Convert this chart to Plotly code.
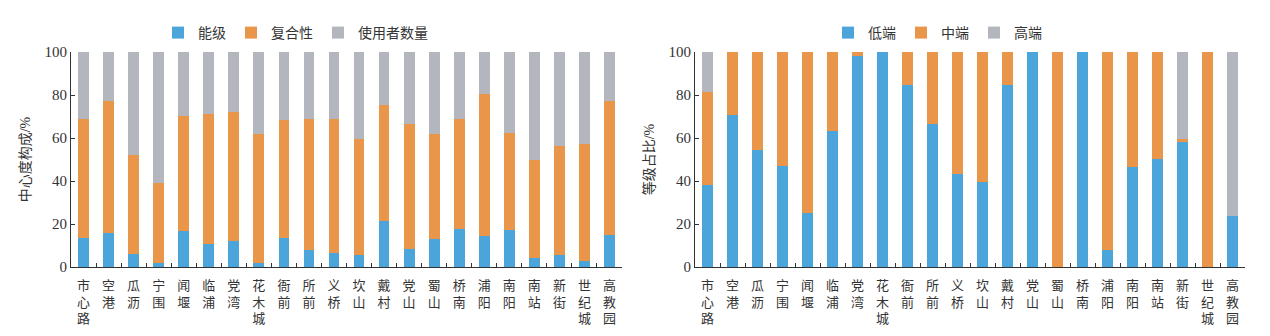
import plotly.graph_objects as go

categories = ["市心路", "空港", "瓜沥", "宁围", "闻堰", "临浦", "党湾", "花木城", "衙前", "所前", "义桥",
              "坎山", "戴村", "党山", "蜀山", "桥南", "浦阳", "南阳", "南站", "新街", "世纪城", "高教园"]

# left chart: centrality composition (%)
nengji = [13.6, 16.0, 6.0, 1.9, 16.7, 10.9, 11.9, 1.9, 13.6, 7.8, 6.7,
          5.4, 21.4, 8.4, 13.2, 17.8, 14.4, 17.2, 4.2, 5.4, 2.9, 14.9]
fuhexing = [55.4, 61.2, 46.2, 37.3, 53.4, 60.1, 60.2, 59.8, 54.8, 61.2, 62.3,
            54.1, 54.1, 58.1, 48.7, 51.2, 65.9, 45.3, 45.6, 51.0, 54.3, 62.5]
shiyongzhe = [31.0, 22.8, 47.8, 60.8, 29.9, 29.0, 27.9, 38.3, 31.6, 31.0, 31.0,
              40.5, 24.5, 33.5, 38.1, 31.0, 19.7, 37.5, 50.2, 43.6, 42.8, 22.6]

# right chart: grade share (%)
diduan = [38.3, 70.8, 54.4, 47.1, 25.2, 63.2, 98.1, 100, 84.5, 66.6, 43.1,
          39.4, 84.5, 100, 0, 100, 8.0, 46.7, 50.1, 58.3, 0, 23.5]
zhongduan = [43.2, 29.2, 45.6, 52.9, 74.8, 36.8, 1.9, 0, 15.5, 33.4, 56.9,
             60.6, 15.5, 0, 100, 0, 92.0, 53.3, 49.9, 1.4, 100, 0]
gaoduan = [18.5, 0, 0, 0, 0, 0, 0, 0, 0, 0, 0,
           0, 0, 0, 0, 0, 0, 0, 0, 40.3, 0, 76.5]

y_ticks = [0, 20, 40, 60, 80, 100]

BLUE = "#4BA4DA"
ORANGE = "#E9964A"
GREY = "#B3B6BC"
FONT = "Liberation Serif, Noto Sans CJK SC"
TXT = "#333333"

tick_text = ["<br>".join(list(c)) for c in categories]

fig = go.Figure()

left = [("能级", nengji, BLUE), ("复合性", fuhexing, ORANGE), ("使用者数量", shiyongzhe, GREY)]
right = [("低端", diduan, BLUE), ("中端", zhongduan, ORANGE), ("高端", gaoduan, GREY)]

for name, vals, col in left:
    fig.add_trace(go.Bar(x=categories, y=vals, name=name, marker=dict(color=col, line=dict(width=0)),
                         xaxis="x", yaxis="y", legend="legend"))
for name, vals, col in right:
    fig.add_trace(go.Bar(x=categories, y=vals, name=name, marker=dict(color=col, line=dict(width=0)),
                         xaxis="x2", yaxis="y2", legend="legend2"))

W, H = 1270, 336
ydom = [1 - 267 / H, 1 - 52 / H]

xcommon = dict(type="category", tickmode="array", tickvals=categories, ticktext=tick_text,
               showline=True, linecolor="#333", linewidth=1, ticks="inside", ticklen=4,
               tickcolor="#333", tickson="boundaries", tickangle=0, automargin=False,
               tickfont=dict(family=FONT, size=13, color=TXT), ticklabelstandoff=6,
               showgrid=False, zeroline=False, range=[-0.5, 21.5])
ycommon = dict(range=[0, 100], tickvals=y_ticks, showline=True, linecolor="#333", linewidth=1,
               ticks="inside", ticklen=4, tickcolor="#333", showgrid=False, zeroline=False,
               automargin=False, tickfont=dict(family=FONT, size=15, color=TXT))

fig.update_layout(
    width=W, height=H, margin=dict(l=0, r=0, t=0, b=0, autoexpand=False),
    paper_bgcolor="white", plot_bgcolor="white",
    barmode="stack", bargap=0.57,
    font=dict(family=FONT, color=TXT),
    xaxis=dict(domain=[71 / W, 622 / W], anchor="y", **xcommon),
    yaxis=dict(domain=ydom, anchor="x",
               title=dict(text="中心度构成/%", font=dict(family=FONT, size=14, color=TXT), standoff=10),
               **ycommon),
    xaxis2=dict(domain=[695 / W, 1245 / W], anchor="y2", **xcommon),
    yaxis2=dict(domain=ydom, anchor="x2",
                title=dict(text="等级占比/%", font=dict(family=FONT, size=14, color=TXT), standoff=10),
                **ycommon),
    legend=dict(orientation="h", x=158 / W, xanchor="left", y=1 - 33 / H, yanchor="middle",
                font=dict(family=FONT, size=14, color=TXT), itemwidth=30,
                bgcolor="rgba(0,0,0,0)", traceorder="normal"),
    legend2=dict(orientation="h", x=828 / W, xanchor="left", y=1 - 33 / H, yanchor="middle",
                 font=dict(family=FONT, size=14, color=TXT), itemwidth=30,
                 bgcolor="rgba(0,0,0,0)", traceorder="normal"),
)

fig.write_html("out.html")
